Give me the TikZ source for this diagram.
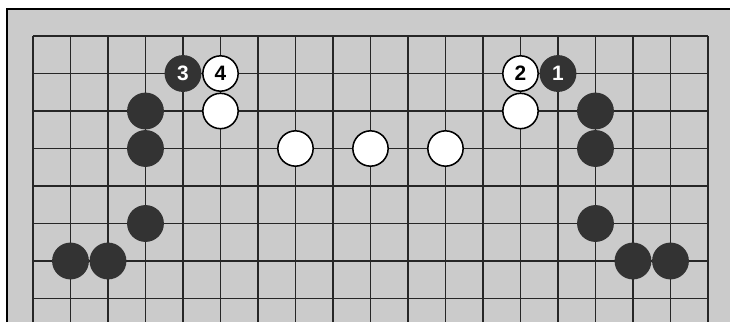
\documentclass[tikz,border=0pt]{standalone}
\usepackage{fontspec}
\setsansfont{Liberation Sans}
\definecolor{boardgray}{HTML}{CBCBCB}
\definecolor{stonedark}{HTML}{333333}

\begin{document}
\begin{tikzpicture}[
  x=0.6cm, y=-0.6cm,
  stone/.style={circle, inner sep=0pt, minimum size=0.565cm, line width=0.7pt, font=\sffamily\bfseries\fontsize{9.5}{10}\selectfont},
  wstone/.style={stone, draw=black, fill=white, text=black},
  bstone/.style={stone, draw=stonedark, fill=stonedark, text=white},
  gridline/.style={line width=0.7pt, black!85}
]
\useasboundingbox (-0.88,-0.96) rectangle (18.587,7.627);
% board and frame
\fill[boardgray] (-0.693,-0.72) rectangle (18.587,7.627);
\draw[line width=1pt] (-0.693,7.627) -- (-0.693,-0.72) -- (18.587,-0.72);
\foreach \c in {0,...,18}
  \draw[gridline] (\c,0) -- (\c,7.627);
\foreach \r in {0,...,7}
  \draw[gridline] (0,\r) -- (18,\r);

% left side
\node[bstone] (b3) at (4,1) {3};
\node[wstone] (w4) at (5,1) {4};
\node[wstone] (wl) at (5,2) {};
\node[bstone] (bla) at (3,2) {};
\node[bstone] (blb) at (3,3) {};
\node[bstone] (blc) at (3,5) {};
\node[bstone] (bld) at (1,6) {};
\node[bstone] (ble) at (2,6) {};

% centre
\foreach \c in {7,9,11}
  \node[wstone] (wc\c) at (\c,3) {};

% right side
\node[wstone] (w2) at (13,1) {2};
\node[bstone] (b1) at (14,1) {1};
\node[wstone] (wr) at (13,2) {};
\node[bstone] (bra) at (15,2) {};
\node[bstone] (brb) at (15,3) {};
\node[bstone] (brc) at (15,5) {};
\node[bstone] (brd) at (16,6) {};
\node[bstone] (bre) at (17,6) {};
\end{tikzpicture}
\end{document}
